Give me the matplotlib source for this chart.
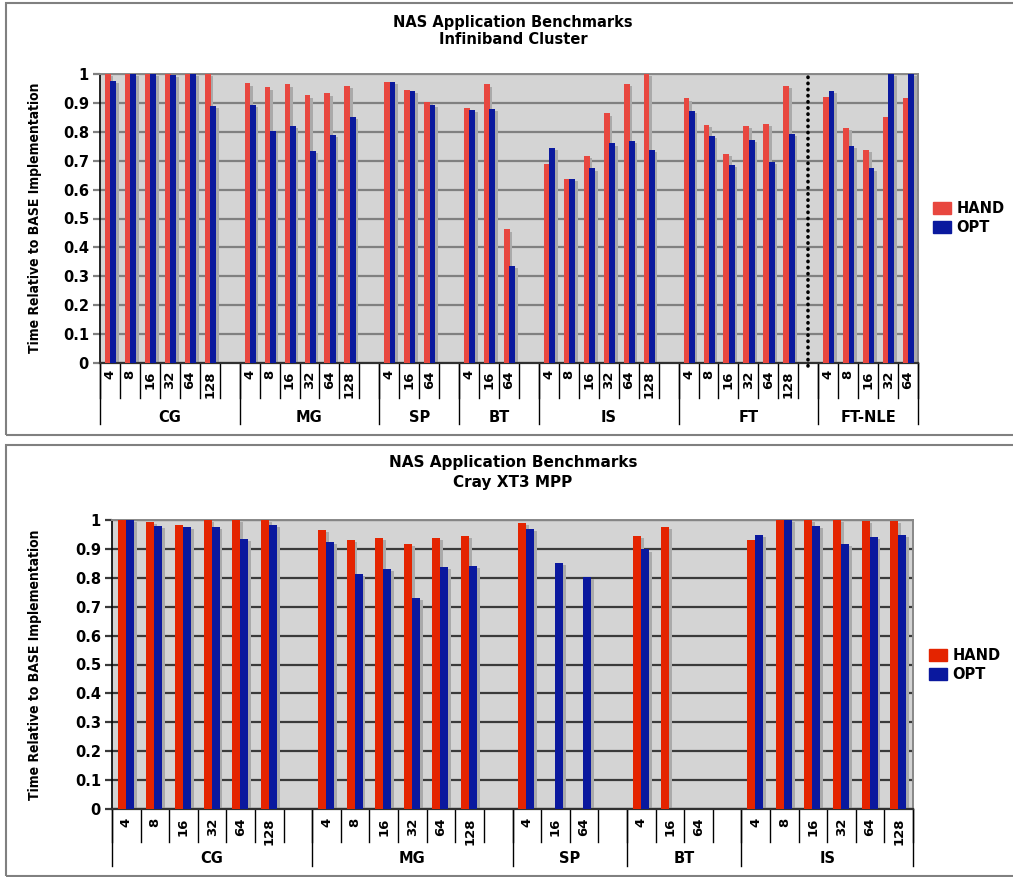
import numpy as np
import matplotlib
matplotlib.use('Agg')
import matplotlib.pyplot as plt
from matplotlib.patches import Rectangle, Patch

# top chart: Infiniband cluster
ib_groups = ['CG', 'MG', 'SP', 'BT', 'IS', 'FT', 'FT-NLE']
ib_procs = [
    ['4', '8', '16', '32', '64', '128'],
    ['4', '8', '16', '32', '64', '128'],
    ['4', '16', '64'],
    ['4', '16', '64'],
    ['4', '8', '16', '32', '64', '128'],
    ['4', '8', '16', '32', '64', '128'],
    ['4', '8', '16', '32', '64'],
]
ib_hand = [
    [1.0, 1.0, 1.0, 1.0, 1.0, 1.0],
    [0.968, 0.954, 0.964, 0.926, 0.933, 0.958],
    [0.972, 0.945, 0.903],
    [0.881, 0.964, 0.463],
    [0.689, 0.637, 0.716, 0.864, 0.965, 1.0],
    [0.916, 0.824, 0.723, 0.820, 0.827, 0.958],
    [0.920, 0.813, 0.737, 0.851, 0.917],
]
ib_opt = [
    [0.976, 1.0, 1.0, 0.997, 1.0, 0.889],
    [0.893, 0.803, 0.820, 0.734, 0.789, 0.851],
    [0.972, 0.941, 0.893],
    [0.875, 0.879, 0.336],
    [0.744, 0.637, 0.674, 0.760, 0.768, 0.737],
    [0.872, 0.785, 0.685, 0.772, 0.696, 0.792],
    [0.941, 0.751, 0.674, 1.0, 1.0],
]

# bottom chart: Cray XT3 MPP
xt_groups = ['CG', 'MG', 'SP', 'BT', 'IS']
xt_procs = [
    ['4', '8', '16', '32', '64', '128'],
    ['4', '8', '16', '32', '64', '128'],
    ['4', '16', '64'],
    ['4', '16', '64'],
    ['4', '8', '16', '32', '64', '128'],
]
nan = np.nan
xt_hand = [
    [1.0, 0.994, 0.984, 1.0, 1.0, 1.0],
    [0.966, 0.932, 0.939, 0.918, 0.939, 0.946],
    [0.991, nan, nan],
    [0.946, 0.977, nan],
    [0.932, 1.0, 1.0, 1.0, 0.998, 0.998],
]
xt_opt = [
    [1.0, 0.980, 0.977, 0.977, 0.935, 0.984],
    [0.925, 0.814, 0.831, 0.731, 0.838, 0.842],
    [0.970, 0.852, 0.804],
    [0.898, nan, nan],
    [0.949, 1.0, 0.980, 0.918, 0.942, 0.949],
]

W, H = 1013, 877
fig = plt.figure(figsize=(W / 100, H / 100), dpi=100)


def draw_chart(ax, groups, procs, hand, opt, red, blue, gridc, red_off, blue_off, bw,
               sdx, lab_y, inner_y, grp_y, outer_y):
    ax.set_facecolor('#d4d4d4')
    xs, hv, ov, labels, starts = [], [], [], [], []
    pos = 0
    for p, h, o in zip(procs, hand, opt):
        starts.append(pos)
        for k in range(len(p)):
            xs.append(pos + k)
            labels.append(p[k])
        hv += h
        ov += o
        pos += len(p) + 1
    n = pos - 1
    xs = np.array(xs, dtype=float)
    hv = np.array(hv, dtype=float)
    ov = np.array(ov, dtype=float)
    mh = ~np.isnan(hv)
    mo = ~np.isnan(ov)

    # shadows
    ax.bar(xs[mh] + red_off + sdx, hv[mh] - 0.008, width=bw, align='edge',
           color='#aaaaaa', zorder=2)
    ax.bar(xs[mo] + blue_off + sdx, ov[mo] - 0.008, width=bw, align='edge',
           color='#aaaaaa', zorder=2)
    ax.bar(xs[mh] + red_off, hv[mh], width=bw, align='edge', color=red, zorder=3)
    ax.bar(xs[mo] + blue_off, ov[mo], width=bw, align='edge', color=blue, zorder=4)

    ax.set_xlim(0, n)
    ax.set_ylim(0, 1)
    ticks = np.arange(0, 1.01, 0.1)
    ax.set_yticks(ticks)
    ax.set_yticklabels([f'{t:.1f}'.rstrip('0').rstrip('.') if t > 0 else '0' for t in ticks])
    ax.grid(axis='y', color=gridc, lw=1.6)
    ax.set_axisbelow(True)
    ax.set_xticks([])
    ax.tick_params(axis='y', length=5, width=1.6, color=gridc, pad=3, labelsize=10.5)
    for lab in ax.get_yticklabels():
        lab.set_fontweight('bold')
    ax.spines['left'].set_color('black')
    ax.spines['left'].set_linewidth(1.2)
    ax.spines['bottom'].set_color('#303030')
    ax.spines['bottom'].set_linewidth(1.6)
    for s in ['top', 'right']:
        ax.spines[s].set_color('#888888')
        ax.spines[s].set_linewidth(1.4)

    # category axis: process counts and benchmark groups
    for x, lab in zip(xs, labels):
        ax.text(x + 0.5, lab_y, lab, rotation=90, ha='center', va='top',
                fontsize=9.5, fontweight='bold', clip_on=False)
    for b in range(n + 1):
        ax.plot([b, b], [0, inner_y], color='black', lw=1, clip_on=False)
    ends = starts[1:] + [n]
    for s, e, g in zip(starts, ends, groups):
        ax.text((s + e) / 2, grp_y, g, ha='center', va='center',
                fontsize=10.5, fontweight='bold', clip_on=False)
    for b in starts + [n]:
        ax.plot([b, b], [0, outer_y], color='black', lw=1, clip_on=False)
    return starts


def fx(px):
    return px / W


def fy(py):
    return 1 - py / H


# panel frames
fig.add_artist(Rectangle((fx(6), fy(435)), fx(1030 - 6), (435 - 3) / H,
                         transform=fig.transFigure, fill=False, ec='#808080', lw=1.5))
fig.add_artist(Rectangle((fx(6), fy(876)), fx(1030 - 6), (876 - 445) / H,
                         transform=fig.transFigure, fill=False, ec='#808080', lw=1.5))

# ---- top chart
ax1 = fig.add_axes([fx(100), fy(363), fx(918 - 100), (363 - 74) / H])
st = draw_chart(ax1, ib_groups, ib_procs, ib_hand, ib_opt, '#e8473f', '#0a199e', '#808080',
                0.25, 0.52, 0.29, 0.13, -0.025, -0.121, -0.187, -0.211)
ax1.plot([st[-1] - 0.5] * 2, [-0.01, 1.0], color='black', lw=2.6,
         linestyle=(0, (0.1, 1.6)), dash_capstyle='round', zorder=6, clip_on=False)
fig.text(fx(513), fy(22), 'NAS Application Benchmarks', ha='center', va='center',
         fontsize=10.5, fontweight='bold')
fig.text(fx(513), fy(39), 'Infiniband Cluster', ha='center', va='center',
         fontsize=10.5, fontweight='bold')
fig.text(fx(35), fy(218), 'Time Relative to BASE Implementation', rotation=90,
         ha='center', va='center', fontsize=10, fontweight='bold', fontstretch='condensed')
ax1.legend(handles=[Patch(color='#e8473f', label='HAND'), Patch(color='#0a199e', label='OPT')],
           loc='center left', bbox_to_anchor=(fx(933), fy(218)), bbox_transform=fig.transFigure,
           frameon=False, prop={'weight': 'bold', 'size': 10.5},
           handlelength=1.2, handleheight=0.9, handletextpad=0.4, labelspacing=0.25,
           borderpad=0, borderaxespad=0)

# ---- bottom chart
ax2 = fig.add_axes([fx(112), fy(809), fx(913 - 112), (809 - 520) / H])
draw_chart(ax2, xt_groups, xt_procs, xt_hand, xt_opt, '#e42400', '#0a189e', '#3a3a3a',
           0.2, 0.48, 0.28, 0.1, -0.03, -0.114, -0.170, -0.197)
fig.text(fx(513), fy(463), 'NAS Application Benchmarks', ha='center', va='center',
         fontsize=11, fontweight='bold')
fig.text(fx(513), fy(482), 'Cray XT3 MPP', ha='center', va='center',
         fontsize=11, fontweight='bold')
fig.text(fx(35), fy(665), 'Time Relative to BASE Implementation', rotation=90,
         ha='center', va='center', fontsize=10, fontweight='bold', fontstretch='condensed')
ax2.legend(handles=[Patch(color='#e42400', label='HAND'), Patch(color='#0a189e', label='OPT')],
           loc='center left', bbox_to_anchor=(fx(929), fy(665)), bbox_transform=fig.transFigure,
           frameon=False, prop={'weight': 'bold', 'size': 10.5},
           handlelength=1.2, handleheight=0.9, handletextpad=0.4, labelspacing=0.25,
           borderpad=0, borderaxespad=0)

fig.savefig('out.png', dpi=100)
